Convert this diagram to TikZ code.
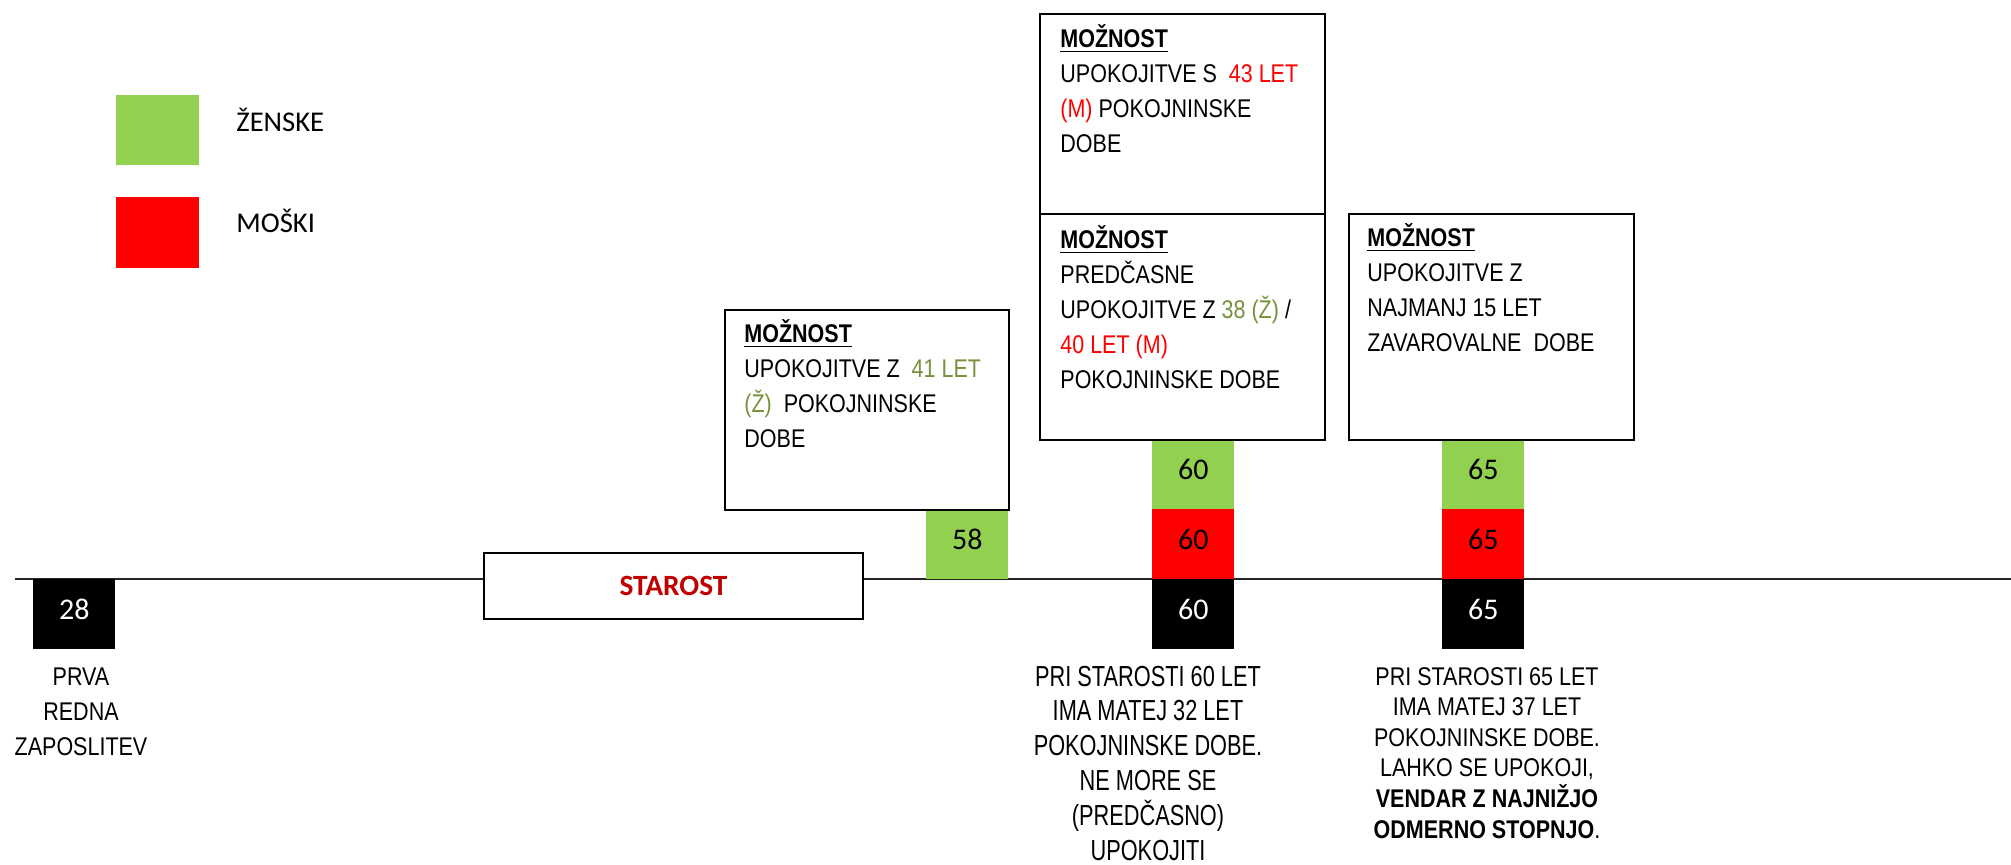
\documentclass[tikz,border=0pt]{standalone}
\usepackage{fontspec}
\setmainfont{Liberation Sans}
\newfontfamily\boxfont[FakeStretch=0.84]{Liberation Sans}
\newfontfamily\sixtyfont[FakeStretch=0.75]{Liberation Sans}
\newfontfamily\calfont{Carlito}
\definecolor{lgreen}{HTML}{92D050}
\definecolor{tgreen}{HTML}{76923C}
\definecolor{dred}{HTML}{C00000}
\definecolor{pred}{HTML}{FF0000}
\begin{document}
\begin{tikzpicture}[x=0.5pt,y=-0.5pt,
  sq/.style={minimum width=41pt,minimum height=35pt,inner sep=0pt,anchor=north west,
    font=\calfont\fontsize{15}{18}\selectfont,text depth=5pt},
  optbox/.style={draw=black,line width=0.8pt,fill=white,inner sep=0pt,anchor=north west,
    minimum width=142.5pt},
  txt/.style={inner sep=0pt,anchor=base west,align=left,
    font=\boxfont\fontsize{12.8}{17.5}\selectfont},
  btm/.style={inner sep=0pt,anchor=base,align=center},
  leg/.style={inner sep=0pt,anchor=base west,font=\calfont\fontsize{14.3}{17}\selectfont}]
\useasboundingbox (0,0) rectangle (2011,865);
% legend
\node[fill=lgreen,minimum width=41.5pt,minimum height=35pt,inner sep=0pt,anchor=north west] (lg) at (116,95) {};
\node[fill=pred,minimum width=41.5pt,minimum height=35.5pt,inner sep=0pt,anchor=north west] (lr) at (116,197) {};
\node[leg] (lgt) at (236,132) {ŽENSKE};
\node[leg] (lrt) at (236,233) {MOŠKI};
% timeline
\coordinate (t0) at (15,579);
\coordinate (t1) at (2011,579);
\draw[line width=1pt,black!85] (t0) -- (t1);
% starost
\node[draw=black,line width=1pt,fill=white,inner sep=0pt,anchor=north west,
  minimum width=189.5pt,minimum height=33pt,text=dred,
  font=\calfont\bfseries\fontsize{14.7}{17}\selectfont] (star) at (483,552) {STAROST};
% squares
\node[sq,fill=black,text=white] (b28) at (33,579) {28};
\node[sq,fill=lgreen] (g58) at (926,509) {58};
\node[sq,fill=lgreen] (g60) at (1152,439) {60};
\node[sq,fill=pred] (r60) at (1152,509) {60};
\node[sq,fill=black,text=white] (b60) at (1152,579) {60};
\node[sq,fill=lgreen] (g65) at (1442,439) {65};
\node[sq,fill=pred] (r65) at (1442,509) {65};
\node[sq,fill=black,text=white] (b65) at (1442,579) {65};
% option boxes
\node[optbox,minimum width=142pt,minimum height=100pt] (oA) at (724,309) {};
\node[optbox,minimum height=100pt] (oB) at (1039,13) {};
\node[optbox,minimum height=113pt] (oC) at (1039,213) {};
\node[optbox,minimum height=113pt] (oD) at (1348,213) {};
% texts (anchored at the baseline of their last line)
\node[txt] (tA) at (744,448) {\textbf{\underline{MOŽNOST}}\\UPOKOJITVE Z\ \ \textcolor{tgreen}{41 LET}\\\textcolor{tgreen}{(Ž)}\ \ POKOJNINSKE\\DOBE};
\node[txt] (tB) at (1060,153) {\textbf{\underline{MOŽNOST}}\\UPOKOJITVE S\ \ \textcolor{pred}{43 LET}\\\textcolor{pred}{(M)} POKOJNINSKE\\DOBE};
\node[txt] (tC) at (1060,389) {\textbf{\underline{MOŽNOST}}\\PREDČASNE\\UPOKOJITVE Z \textcolor{tgreen}{38 (Ž)} /\\\textcolor{pred}{40 LET (M)}\\POKOJNINSKE DOBE};
\node[txt] (tD) at (1367,352) {\textbf{\underline{MOŽNOST}}\\UPOKOJITVE Z\\NAJMANJ 15 LET\\ZAVAROVALNE\ \ DOBE};
% bottom texts
\node[btm,font=\boxfont\fontsize{12.8}{17.5}\selectfont] (d28) at (81,755) {PRVA\\REDNA\\ZAPOSLITEV};
\node[btm,font=\sixtyfont\fontsize{14.5}{17.4}\selectfont] (d60) at (1148,860) {PRI STAROSTI 60 LET\\IMA MATEJ 32 LET\\POKOJNINSKE DOBE.\\NE MORE SE\\(PREDČASNO)\\UPOKOJITI};
\node[btm,font=\boxfont\fontsize{12.8}{15.3}\selectfont] (d65) at (1487,838) {PRI STAROSTI 65 LET\\IMA MATEJ 37 LET\\POKOJNINSKE DOBE.\\LAHKO SE UPOKOJI,\\\textbf{VENDAR Z NAJNIŽJO}\\\textbf{ODMERNO STOPNJO}.};
\end{tikzpicture}
\end{document}
